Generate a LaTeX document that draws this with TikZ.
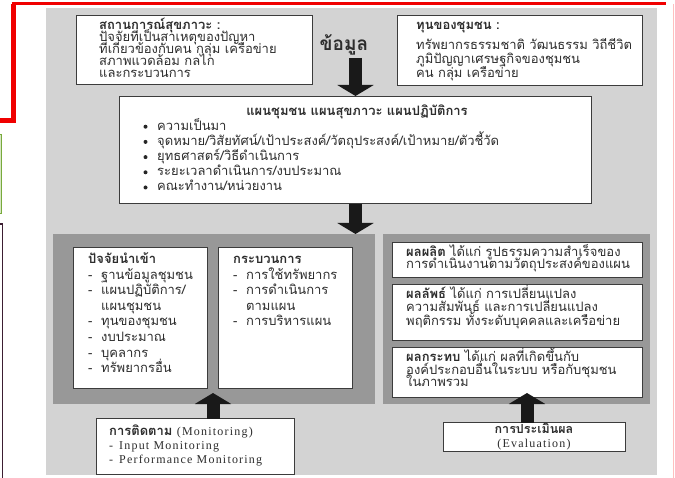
\documentclass[tikz,border=0pt]{standalone}
\usepackage{fontspec}
\setmainfont{Liberation Serif}
\newfontfamily\thaifnt[Script=Thai]{Loma}
\newfontfamily\latinfnt[LetterSpace=10]{Liberation Serif}
\usetikzlibrary{arrows.meta}
\definecolor{bgGray}{RGB}{211,211,211}
\definecolor{panelGray}{RGB}{152,152,152}
\definecolor{boxLine}{RGB}{60,60,60}
\definecolor{arrowBlack}{RGB}{25,25,25}
\definecolor{frameRed}{RGB}{240,0,0}
\definecolor{edgeGreen}{RGB}{120,170,60}
\definecolor{edgeDark}{RGB}{60,30,50}
\definecolor{textGray}{RGB}{45,45,45}
\newcommand{\thaibody}{\thaifnt\fontsize{13}{14}\selectfont}
\newcommand{\latinbody}{\latinfnt\fontsize{12}{13}\selectfont}
\newcommand{\dashitem}[1]{\makebox[13pt][l]{-}#1}
\tikzset{
  whitebox/.style={draw=boxLine, line width=0.9pt, fill=white, anchor=north west, inner sep=0pt},
  darkpanel/.style={fill=panelGray, draw=none, anchor=north west, inner sep=0pt},
  ln/.style={anchor=base west, inner sep=0pt, font=\thaibody, text=textGray},
  bigarrow/.style={draw=arrowBlack, line width=13pt, -{Triangle[length=11pt,width=36pt]}},
  dotmark/.style={circle, fill=black!85, inner sep=0pt, minimum size=4pt},
}
\begin{document}
\begin{tikzpicture}[x=1pt,y=-1pt]
\useasboundingbox (0,0) rectangle (675,478);
\fill[white] (0,0) rectangle (675,478);
% page fragments
\draw[frameRed, line width=5pt] (0,121) -- (13,121) -- (13,4);
\draw[frameRed, line width=3pt] (11.5,4) -- (666,4);
\draw[red!25, line width=0.8pt] (673,4) -- (673,478);
\draw[edgeGreen, fill=edgeGreen!30, line width=0.8pt] (-5,134) rectangle (1.5,213);
\draw[edgeDark, line width=1.5pt] (-5,224) rectangle (2.5,482);
% background
\fill[bgGray] (46,8) rectangle (657,475);
% top left box
\node[whitebox, minimum width=236pt, minimum height=69pt] (sit) at (76,15) {};
\node[ln, font=\thaibody\bfseries] (sit0) at (99,29.5) {สถานการณ์สุขภาวะ :};
\foreach \t [count=\i] in {ปัจจัยที่เป็นสาเหตุของปัญหา, ที่เกี่ยวข้องกับคน กลุ่ม เครือข่าย, สภาพแวดล้อม กลไก, และกระบวนการ}
  \node[ln] (sit\i) at (99,{29.5+\i*12}) {\t};
% top right box
\node[whitebox, minimum width=245pt, minimum height=70pt] (cap) at (397,15) {};
\node[ln, font=\thaibody\bfseries] (cap0) at (416,29.5) {ทุนของชุมชน :};
\foreach \t [count=\i] in {ทรัพยากรธรรมชาติ วัฒนธรรม วิถีชีวิต, ภูมิปัญญาเศรษฐกิจของชุมชน, คน กลุ่ม เครือข่าย}
  \node[ln] (cap\i) at (416,{35.5+\i*14}) {\t};
\node[inner sep=0pt, font=\thaifnt\bfseries\fontsize{19}{21}\selectfont, text=textGray] (data) at (344,45) {ข้อมูล};
% middle box
\node[whitebox, minimum width=472pt, minimum height=107pt] (plan) at (119,96) {};
\node[inner sep=0pt, anchor=base, font=\thaibody\bfseries, text=textGray] (plantitle) at (357,115.5) {แผนชุมชน แผนสุขภาวะ แผนปฏิบัติการ};
\foreach \t [count=\i] in {ความเป็นมา, จุดหมาย/วิสัยทัศน์/เป้าประสงค์/วัตถุประสงค์/เป้าหมาย/ตัวชี้วัด, ยุทธศาสตร์/วิธีดำเนินการ, ระยะเวลาดำเนินการ/งบประมาณ, คณะทำงาน/หน่วยงาน}{
  \node[dotmark] (dot\i) at (145.5,{111.5+\i*15.2}) {};
  \node[ln] (item\i) at (157,{115+\i*15.2}) {\t};
}
% left panel
\node[darkpanel, minimum width=322pt, minimum height=170pt] (left) at (53,234) {};
\node[whitebox, minimum width=134pt, minimum height=141pt] (input) at (73,247) {};
\node[ln, font=\thaibody\bfseries] (input0) at (88,263.5) {ปัจจัยนำเข้า};
\foreach \t [count=\i] in {\dashitem{ฐานข้อมูลชุมชน}, \dashitem{แผนปฏิบัติการ/}, \hspace{13pt}แผนชุมชน, \dashitem{ทุนของชุมชน}, \dashitem{งบประมาณ}, \dashitem{บุคลากร}, \dashitem{ทรัพยากรอื่น}}
  \node[ln] (input\i) at (88,{263.5+\i*15.6}) {\t};
\node[whitebox, minimum width=134pt, minimum height=141pt] (proc) at (218,247) {};
\node[ln, font=\thaibody\bfseries] (proc0) at (233,263.5) {กระบวนการ};
\foreach \t [count=\i] in {\dashitem{การใช้ทรัพยากร}, \dashitem{การดำเนินการ}, \hspace{13pt}ตามแผน, \dashitem{การบริหารแผน}}
  \node[ln] (proc\i) at (233,{263.5+\i*15.6}) {\t};
% right panel
\node[darkpanel, minimum width=267pt, minimum height=170pt] (right) at (383,234) {};
\node[whitebox, minimum width=250pt, minimum height=35pt] (output) at (392,242) {};
\node[ln] (output1) at (406,256.5) {{\bfseries ผลผลิต} ได้แก่ รูปธรรมความสำเร็จของ};
\node[ln] (output2) at (406,269) {การดำเนินงานตามวัตถุประสงค์ของแผน};
\node[whitebox, minimum width=250pt, minimum height=56pt] (outcome) at (392,284) {};
\node[ln] (outcome1) at (406,298.5) {{\bfseries ผลลัพธ์} ได้แก่ การเปลี่ยนแปลง};
\node[ln] (outcome2) at (406,312) {ความสัมพันธ์ และการเปลี่ยนแปลง};
\node[ln] (outcome3) at (406,325.5) {พฤติกรรม ทั้งระดับบุคคลและเครือข่าย};
\node[whitebox, minimum width=250pt, minimum height=50pt] (impact) at (392,347) {};
\node[ln] (impact1) at (406,361.5) {{\bfseries ผลกระทบ} ได้แก่ ผลที่เกิดขึ้นกับ};
\node[ln] (impact2) at (406,374) {องค์ประกอบอื่นในระบบ หรือกับชุมชน};
\node[ln] (impact3) at (406,386.5) {ในภาพรวม};
% bottom boxes
\node[whitebox, minimum width=198pt, minimum height=56pt] (mon) at (96,418) {};
\node[ln] (mon1) at (109,435.5) {{\bfseries การติดตาม} {\latinbody (Monitoring)}};
\node[ln, font=\latinbody] (mon2) at (109,449.5) {-\hspace{6pt}Input Monitoring};
\node[ln, font=\latinbody] (mon3) at (109,463) {-\hspace{6pt}Performance Monitoring};
\node[whitebox, minimum width=182pt, minimum height=29pt] (eval) at (443,422) {};
\node[inner sep=0pt, anchor=base, font=\thaifnt\bfseries\fontsize{12.5}{13}\selectfont, text=textGray] (eval1) at (534,433.5) {การประเมินผล};
\node[inner sep=0pt, anchor=base, font=\latinbody, text=textGray] (eval2) at (534,447) {(Evaluation)};
% arrows
\coordinate (a1s) at (355.5,58);
\coordinate (a3s) at (213,418.5);
\coordinate (a3e) at (213,393);
\coordinate (a4s) at (527,422.5);
\coordinate (a4e) at (527,393);
\draw[bigarrow] (a1s) -- (a1s |- plan.north);
\draw[bigarrow] (a1s |- plan.south) -- (a1s |- left.north);
\draw[bigarrow] (a3s) -- (a3e);
\draw[bigarrow] (a4s) -- (a4e);
\end{tikzpicture}
\end{document}
